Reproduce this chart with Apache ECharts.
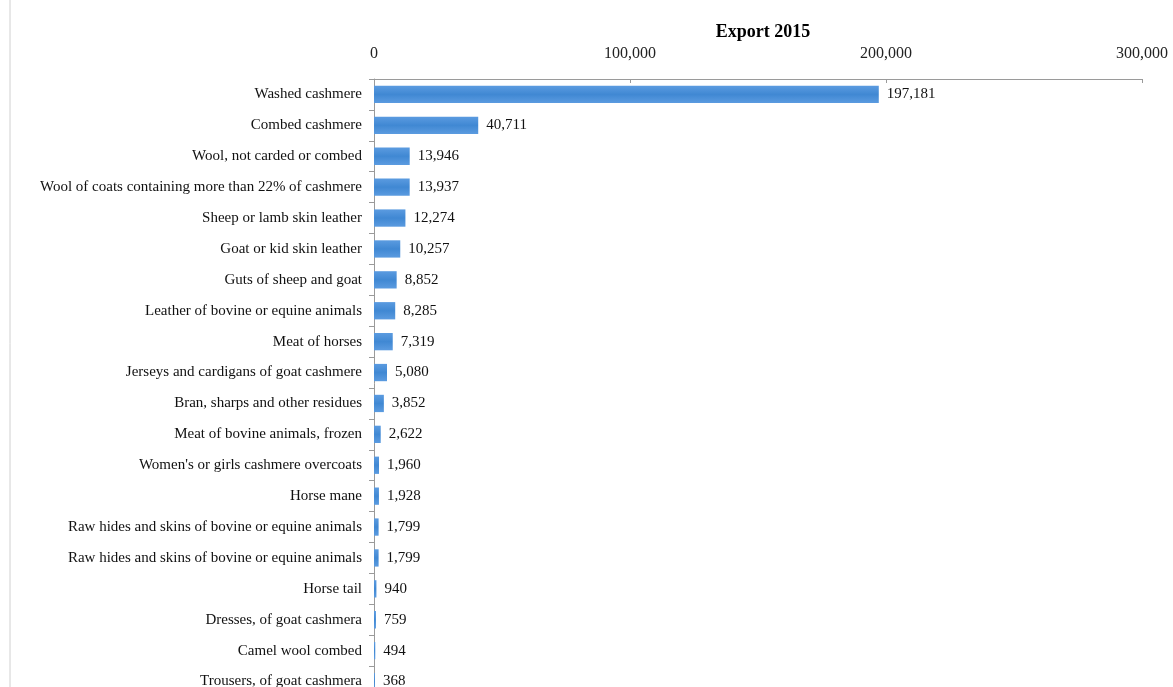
<!DOCTYPE html>
<html>
<head>
<meta charset="utf-8">
<script src="https://cdn.jsdelivr.net/npm/echarts@6/dist/echarts.min.js"></script>
<style>
  html, body { margin: 0; padding: 0; background: #fff; }
  #main { width: 1173px; height: 687px; }
</style>
</head>
<body>
<div id="main"></div>
<script>
var categories = [
  "Washed cashmere",
  "Combed cashmere",
  "Wool, not carded or combed",
  "Wool of coats containing more than 22% of cashmere",
  "Sheep or lamb skin leather",
  "Goat or kid skin leather",
  "Guts of sheep and goat",
  "Leather of bovine or equine animals",
  "Meat of horses",
  "Jerseys and cardigans of goat cashmere",
  "Bran, sharps and other residues",
  "Meat of bovine animals, frozen",
  "Women's or girls cashmere overcoats",
  "Horse mane",
  "Raw hides and skins of bovine or equine animals",
  "Raw hides and skins of bovine or equine animals",
  "Horse tail",
  "Dresses, of goat cashmera",
  "Camel wool combed",
  "Trousers, of goat cashmera"
];
var exports2015 = [197181, 40711, 13946, 13937, 12274, 10257, 8852, 8285, 7319, 5080,
  3852, 2622, 1960, 1928, 1799, 1799, 940, 759, 494, 368];
var xTicks = [0, 100000, 200000, 300000];

var serif = "'Liberation Serif', 'DejaVu Serif', serif";
var chartDom = document.getElementById("main");
var myChart = echarts.init(chartDom);
var option;

option = {
  title: {
    text: "Export 2015",
    left: 758,
    top: 18,
    textAlign: "center",
    textStyle: { fontFamily: serif, fontSize: 18, fontWeight: "bold", color: "#000" }
  },
  graphic: [
    { type: "line", shape: { x1: 10, y1: 0, x2: 10, y2: 687 }, style: { stroke: "#d0d0d0", lineWidth: 1 } }
  ],
  grid: { left: 374, top: 79, width: 768, height: 618, outerBoundsMode: "none" },
  xAxis: {
    type: "value",
    position: "top",
    min: xTicks[0],
    max: xTicks[xTicks.length - 1],
    interval: 100000,
    axisLine: { show: true, lineStyle: { color: "#9a9a9a" } },
    axisTick: { show: true, inside: true, length: 4, lineStyle: { color: "#9a9a9a" } },
    splitLine: { show: false },
    axisLabel: {
      margin: 17,
      fontFamily: serif,
      fontSize: 16,
      color: "#222",
      formatter: function (v) { return v.toLocaleString("en-US"); }
    }
  },
  yAxis: {
    type: "category",
    inverse: true,
    data: categories,
    axisLine: { show: true, lineStyle: { color: "#9a9a9a" } },
    axisTick: { show: true, length: 5, lineStyle: { color: "#9a9a9a" } },
    axisLabel: { margin: 12, fontFamily: serif, fontSize: 15, color: "#111" }
  },
  series: [
    {
      name: "Export 2015",
      type: "bar",
      data: exports2015,
      barWidth: "56%",
      itemStyle: {
        color: new echarts.graphic.LinearGradient(0, 0, 0, 1, [
          { offset: 0, color: "#5b9be0" },
          { offset: 0.5, color: "#4088d3" },
          { offset: 1, color: "#5b9be0" }
        ])
      },
      label: {
        show: true,
        position: "right",
        distance: 8,
        fontFamily: serif,
        fontSize: 15,
        color: "#111",
        formatter: function (p) { return p.value.toLocaleString("en-US"); }
      }
    }
  ]
};

option && myChart.setOption(option);
</script>
</body>
</html>
